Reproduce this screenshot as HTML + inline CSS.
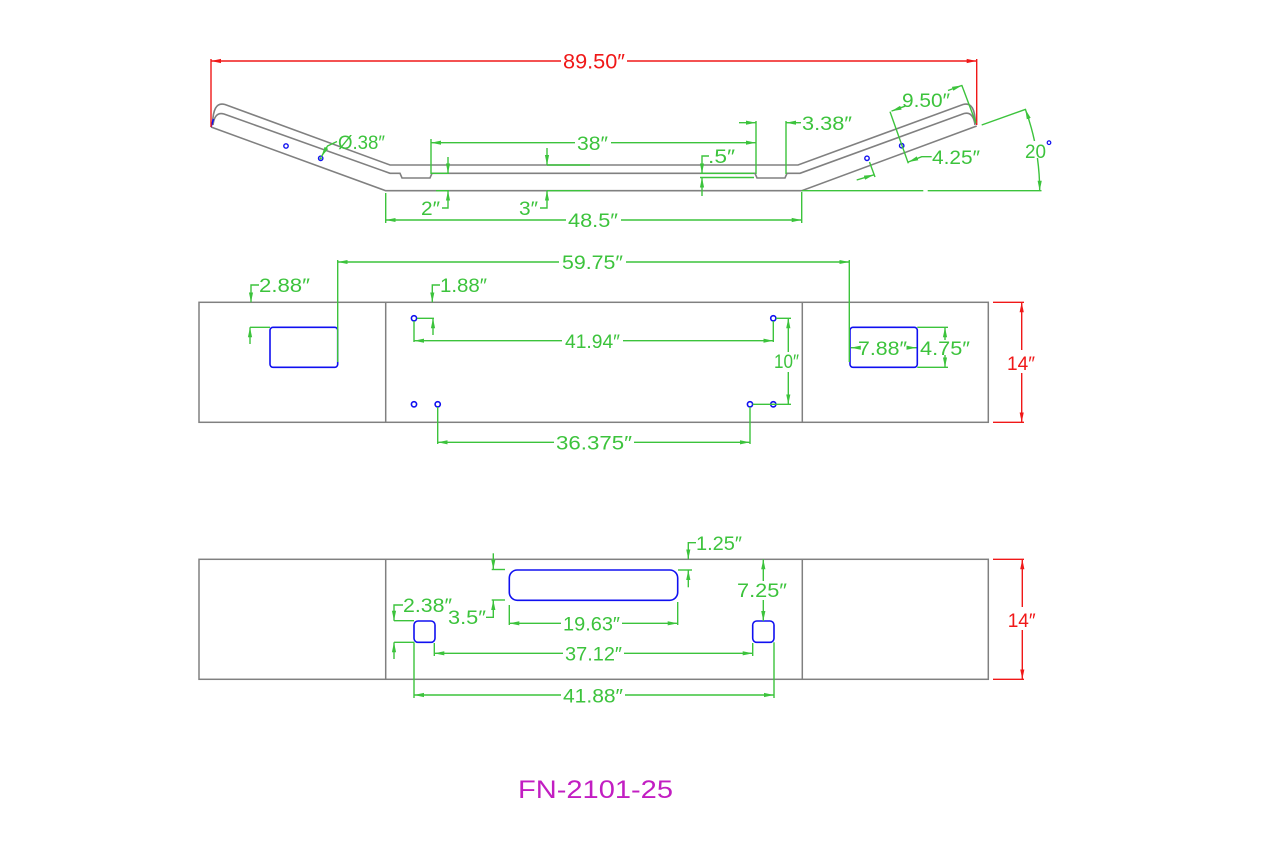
<!DOCTYPE html>
<html><head><meta charset="utf-8"><style>
html,body{margin:0;padding:0;background:#fff;}
svg{display:block;}
text{font-family:"Liberation Sans",sans-serif;}
</style></head><body>
<svg width="1280" height="853" viewBox="0 0 1280 853" xmlns="http://www.w3.org/2000/svg">
<defs>
<marker id="g" viewBox="0 0 10 6" refX="10" refY="3" markerWidth="10" markerHeight="6" markerUnits="userSpaceOnUse" orient="auto"><path d="M0,0.9L10,3L0,5.1z" fill="#3cc33c"/></marker>
<marker id="r" viewBox="0 0 10 6" refX="10" refY="3" markerWidth="10" markerHeight="6" markerUnits="userSpaceOnUse" orient="auto"><path d="M0,0.9L10,3L0,5.1z" fill="#f01818"/></marker>
</defs>
<rect width="1280" height="853" fill="#fff"/>

<!-- ========== TOP PROFILE ========== -->
<g fill="none" stroke="#808080" stroke-width="1.6">
<path d="M211,127 L385.7,190.7 L801.7,190.7 L976.7,126"/>
<path d="M212.5,124 C213,110 216,102 225,104.5 L390,165 L798,165 L963,104.5 C972,102 975,110 975.5,124"/>
<path d="M213,125 C214,117 217,112 224,114 L390,173.3 L400,173.3 L402,178 L430,178 L432,173.3 L755,173.3 L757,178 L785,178 L787,173.3 L800,173.3 L964,113.5 C971,112 974,117 975,125"/>
</g>
<line x1="211" y1="127" x2="213.5" y2="119" stroke="#1010f0" stroke-width="1.6"/>

<!-- red overall -->
<g stroke="#f01818" stroke-width="1.4" fill="none">
<line x1="211" y1="59" x2="211" y2="127"/>
<line x1="976.7" y1="59" x2="976.7" y2="125"/>
<line x1="561" y1="61" x2="211" y2="61" marker-end="url(#r)"/>
<line x1="627" y1="61" x2="976.7" y2="61" marker-end="url(#r)"/>
</g>
<text x="563" y="68.5" font-size="21" fill="#f01818" textLength="62" lengthAdjust="spacingAndGlyphs">89.50″</text>

<!-- holes top -->
<g fill="none" stroke="#1010f0" stroke-width="1.4">
<circle cx="286" cy="146" r="2.2"/>
<circle cx="320.7" cy="158.3" r="2.2"/>
<circle cx="867" cy="158.3" r="2.2"/>
<circle cx="901.7" cy="145.7" r="2.2"/>
</g>

<g stroke="#3cc33c" stroke-width="1.4" fill="none">
<!-- 38 -->
<line x1="431" y1="139" x2="431" y2="174"/>
<line x1="756" y1="121" x2="756" y2="174"/>
<line x1="575" y1="142.7" x2="431" y2="142.7" marker-end="url(#g)"/>
<line x1="611" y1="142.7" x2="756" y2="142.7" marker-end="url(#g)"/>
<!-- 3.38 -->
<line x1="786" y1="121" x2="786" y2="174"/>
<line x1="739" y1="122.7" x2="756" y2="122.7" marker-end="url(#g)"/>
<line x1="801" y1="122.7" x2="786" y2="122.7" marker-end="url(#g)"/>
<!-- .5 -->
<line x1="700" y1="173.3" x2="754" y2="173.3"/>
<line x1="700" y1="177.5" x2="754" y2="177.5"/>
<polyline points="709,156 702,156 702,173.3" marker-end="url(#g)"/>
<line x1="702" y1="196" x2="702" y2="177.5" marker-end="url(#g)"/>
<!-- 2 -->
<line x1="431" y1="173.3" x2="449" y2="173.3"/>
<line x1="436" y1="190.7" x2="449" y2="190.7"/>
<line x1="448" y1="157" x2="448" y2="173.3" marker-end="url(#g)"/>
<polyline points="442,208 448,208 448,190.7" marker-end="url(#g)"/>
<!-- 3 -->
<line x1="547" y1="165" x2="590" y2="165"/>
<line x1="547" y1="190.7" x2="590" y2="190.7"/>
<line x1="547" y1="148" x2="547" y2="165" marker-end="url(#g)"/>
<polyline points="540,208 547,208 547,190.7" marker-end="url(#g)"/>
<!-- 48.5 -->
<line x1="385.7" y1="193" x2="385.7" y2="223"/>
<line x1="801.7" y1="192" x2="801.7" y2="223"/>
<line x1="566" y1="220" x2="385.7" y2="220" marker-end="url(#g)"/>
<line x1="621" y1="220" x2="801.7" y2="220" marker-end="url(#g)"/>
<!-- dia .38 leader -->
<polyline points="337,141.5 327.5,146 321.5,156.5" marker-end="url(#g)"/>
<!-- 9.50 -->
<line x1="890" y1="111.7" x2="908.3" y2="163.3"/>
<line x1="961.7" y1="85" x2="976" y2="123"/>
<line x1="905" y1="106.2" x2="891.5" y2="111.1" marker-end="url(#g)"/>
<line x1="948" y1="90.5" x2="962" y2="85.4" marker-end="url(#g)"/>
<!-- 4.25 -->
<polyline points="931.7,156.7 921.7,156.7 908.3,162" marker-end="url(#g)"/>
<line x1="869.5" y1="162" x2="875" y2="177"/>
<line x1="856.7" y1="180" x2="874" y2="174.8" marker-end="url(#g)"/>
<!-- 20 deg -->
<line x1="981.7" y1="125" x2="1026" y2="109.2"/>
<path d="M1034.5,141 A238,238 0 0 0 1025.35,109.3" marker-end="url(#g)"/>
<path d="M1037.4,158 A238,238 0 0 1 1039.7,190.7" marker-end="url(#g)"/>
<line x1="801.7" y1="190.7" x2="923.3" y2="190.7"/>
<line x1="927.7" y1="190.7" x2="1041.5" y2="190.7"/>
</g>
<circle cx="320.7" cy="158.3" r="1.2" fill="#3cc33c"/>
<circle cx="1049" cy="142.7" r="1.8" fill="none" stroke="#1010f0" stroke-width="1.2"/>

<g font-size="19" fill="#3cc33c">
<text x="577" y="150" textLength="31" lengthAdjust="spacingAndGlyphs">38″</text>
<text x="802" y="130" textLength="50" lengthAdjust="spacingAndGlyphs">3.38″</text>
<text x="708" y="163" textLength="27" lengthAdjust="spacingAndGlyphs">.5″</text>
<text x="421" y="215" textLength="19" lengthAdjust="spacingAndGlyphs">2″</text>
<text x="519" y="215" textLength="19" lengthAdjust="spacingAndGlyphs">3″</text>
<text x="568" y="227" textLength="50" lengthAdjust="spacingAndGlyphs">48.5″</text>
<text x="338" y="149" textLength="47" lengthAdjust="spacingAndGlyphs">Ø.38″</text>
<text x="902" y="107" textLength="48" lengthAdjust="spacingAndGlyphs">9.50″</text>
<text x="932" y="164" textLength="48" lengthAdjust="spacingAndGlyphs">4.25″</text>
<text x="1025" y="158" textLength="21" lengthAdjust="spacingAndGlyphs">20</text>
</g>

<!-- ========== MIDDLE VIEW ========== -->
<g fill="none" stroke="#808080" stroke-width="1.5">
<rect x="199" y="302.3" width="789.3" height="120"/>
<line x1="385.7" y1="302.3" x2="385.7" y2="422.3"/>
<line x1="802.3" y1="302.3" x2="802.3" y2="422.3"/>
</g>
<g fill="none" stroke="#1010f0" stroke-width="1.6">
<rect x="270" y="327.3" width="67.7" height="40" rx="3"/>
<rect x="850" y="327.3" width="67.3" height="40" rx="3"/>
<circle cx="414" cy="318.3" r="2.6"/>
<circle cx="414" cy="404.3" r="2.6"/>
<circle cx="437.7" cy="404.3" r="2.6"/>
<circle cx="773.3" cy="318.3" r="2.6"/>
<circle cx="750" cy="404.3" r="2.6"/>
<circle cx="773.3" cy="404.3" r="2.6"/>
</g>
<g stroke="#3cc33c" stroke-width="1.4" fill="none">
<!-- 59.75 -->
<line x1="337.7" y1="260" x2="337.7" y2="362"/>
<line x1="849.3" y1="260" x2="849.3" y2="362"/>
<line x1="559" y1="262" x2="337.7" y2="262" marker-end="url(#g)"/>
<line x1="626" y1="262" x2="849.3" y2="262" marker-end="url(#g)"/>
<!-- 2.88 -->
<polyline points="259,285 251,285 251,302.3" marker-end="url(#g)"/>
<line x1="250" y1="327.3" x2="270" y2="327.3"/>
<line x1="250" y1="344" x2="250" y2="327.3" marker-end="url(#g)"/>
<!-- 1.88 -->
<polyline points="440,285 432.3,285 432.3,302.3" marker-end="url(#g)"/>
<line x1="417" y1="318.3" x2="434" y2="318.3"/>
<line x1="433" y1="335" x2="433" y2="318.3" marker-end="url(#g)"/>
<!-- 41.94 -->
<line x1="414" y1="321" x2="414" y2="342"/>
<line x1="773.3" y1="321" x2="773.3" y2="342"/>
<line x1="562" y1="340.7" x2="414" y2="340.7" marker-end="url(#g)"/>
<line x1="623" y1="340.7" x2="773.3" y2="340.7" marker-end="url(#g)"/>
<!-- 10 -->
<line x1="776" y1="318.3" x2="791" y2="318.3"/>
<line x1="752.6" y1="404.3" x2="791" y2="404.3"/>
<line x1="788.3" y1="352" x2="788.3" y2="318.3" marker-end="url(#g)"/>
<line x1="788.3" y1="372" x2="788.3" y2="404.3" marker-end="url(#g)"/>
<!-- 36.375 -->
<line x1="437.7" y1="407" x2="437.7" y2="444"/>
<line x1="750" y1="407" x2="750" y2="444"/>
<line x1="554" y1="442.3" x2="437.7" y2="442.3" marker-end="url(#g)"/>
<line x1="634" y1="442.3" x2="750" y2="442.3" marker-end="url(#g)"/>
<!-- 7.88 -->
<line x1="858" y1="347.7" x2="850.8" y2="347.7" marker-end="url(#g)"/>
<line x1="908" y1="347.7" x2="916.5" y2="347.7" marker-end="url(#g)"/>
<!-- 4.75 -->
<line x1="917.3" y1="327.3" x2="948" y2="327.3"/>
<line x1="917.3" y1="367.3" x2="948" y2="367.3"/>
<line x1="945" y1="340" x2="945" y2="327.3" marker-end="url(#g)"/>
<line x1="945" y1="355" x2="945" y2="367.3" marker-end="url(#g)"/>
</g>
<g stroke="#f01818" stroke-width="1.4" fill="none">
<line x1="993" y1="302.3" x2="1024" y2="302.3"/>
<line x1="993" y1="422.3" x2="1024" y2="422.3"/>
<line x1="1021.7" y1="350" x2="1021.7" y2="302.3" marker-end="url(#r)"/>
<line x1="1021.7" y1="373" x2="1021.7" y2="422.3" marker-end="url(#r)"/>
</g>
<text x="1007" y="370" font-size="19" fill="#f01818" textLength="28" lengthAdjust="spacingAndGlyphs">14″</text>
<g font-size="19" fill="#3cc33c">
<text x="562" y="269" textLength="61" lengthAdjust="spacingAndGlyphs">59.75″</text>
<text x="259" y="292" textLength="51" lengthAdjust="spacingAndGlyphs">2.88″</text>
<text x="440" y="292" textLength="47" lengthAdjust="spacingAndGlyphs">1.88″</text>
<text x="565" y="348" textLength="55" lengthAdjust="spacingAndGlyphs">41.94″</text>
<text x="774" y="368" textLength="25" lengthAdjust="spacingAndGlyphs">10″</text>
<text x="556" y="449.5" textLength="76" lengthAdjust="spacingAndGlyphs">36.375″</text>
<text x="858" y="355" textLength="49" lengthAdjust="spacingAndGlyphs">7.88″</text>
<text x="920" y="355" textLength="50" lengthAdjust="spacingAndGlyphs">4.75″</text>
</g>

<!-- ========== BOTTOM VIEW ========== -->
<g fill="none" stroke="#808080" stroke-width="1.5">
<rect x="199" y="559.3" width="789.3" height="120"/>
<line x1="385.7" y1="559.3" x2="385.7" y2="679.3"/>
<line x1="802.3" y1="559.3" x2="802.3" y2="679.3"/>
</g>
<g fill="none" stroke="#1010f0" stroke-width="1.6">
<rect x="509.3" y="570" width="168.4" height="30.3" rx="8"/>
<rect x="414" y="621" width="21" height="21.3" rx="4"/>
<rect x="752.7" y="621" width="21.3" height="21.3" rx="4"/>
</g>
<g stroke="#3cc33c" stroke-width="1.4" fill="none">
<!-- 1.25 -->
<polyline points="696,542.7 688.3,542.7 688.3,559.3" marker-end="url(#g)"/>
<line x1="678" y1="570" x2="692" y2="570"/>
<line x1="688.3" y1="587.3" x2="688.3" y2="570" marker-end="url(#g)"/>
<!-- 3.5 -->
<line x1="493.3" y1="553.3" x2="493.3" y2="569.5" marker-end="url(#g)"/>
<line x1="491.7" y1="569.5" x2="505" y2="569.5"/>
<line x1="491.7" y1="600" x2="505" y2="600"/>
<polyline points="486,617.3 493.3,617.3 493.3,600" marker-end="url(#g)"/>
<!-- 19.63 -->
<line x1="509.3" y1="605" x2="509.3" y2="625"/>
<line x1="677.7" y1="602" x2="677.7" y2="625"/>
<line x1="561" y1="623.3" x2="509.3" y2="623.3" marker-end="url(#g)"/>
<line x1="622" y1="623.3" x2="677.7" y2="623.3" marker-end="url(#g)"/>
<!-- 7.25 -->
<line x1="763.3" y1="581" x2="763.3" y2="559.3" marker-end="url(#g)"/>
<line x1="763.3" y1="600" x2="763.3" y2="621" marker-end="url(#g)"/>
<!-- 2.38 -->
<polyline points="403,605 394,605 394,620.7" marker-end="url(#g)"/>
<line x1="394" y1="620.7" x2="414" y2="620.7"/>
<line x1="394" y1="642.3" x2="414" y2="642.3"/>
<line x1="394" y1="659" x2="394" y2="642.3" marker-end="url(#g)"/>
<!-- 37.12 -->
<line x1="434.3" y1="643" x2="434.3" y2="656"/>
<line x1="752.7" y1="643" x2="752.7" y2="656"/>
<line x1="563" y1="653.3" x2="434.3" y2="653.3" marker-end="url(#g)"/>
<line x1="624" y1="653.3" x2="752.7" y2="653.3" marker-end="url(#g)"/>
<!-- 41.88 -->
<line x1="414" y1="642.3" x2="414" y2="698"/>
<line x1="774" y1="642.3" x2="774" y2="698"/>
<line x1="561" y1="695" x2="414" y2="695" marker-end="url(#g)"/>
<line x1="625" y1="695" x2="774" y2="695" marker-end="url(#g)"/>
</g>
<g stroke="#f01818" stroke-width="1.4" fill="none">
<line x1="993" y1="559.3" x2="1024" y2="559.3"/>
<line x1="993" y1="679.3" x2="1024" y2="679.3"/>
<line x1="1022.3" y1="607" x2="1022.3" y2="559.3" marker-end="url(#r)"/>
<line x1="1022.3" y1="630" x2="1022.3" y2="679.3" marker-end="url(#r)"/>
</g>
<text x="1007.7" y="627" font-size="19" fill="#f01818" textLength="28" lengthAdjust="spacingAndGlyphs">14″</text>
<g font-size="19" fill="#3cc33c">
<text x="696" y="550" textLength="46" lengthAdjust="spacingAndGlyphs">1.25″</text>
<text x="448" y="624" textLength="38" lengthAdjust="spacingAndGlyphs">3.5″</text>
<text x="563" y="630.7" textLength="57" lengthAdjust="spacingAndGlyphs">19.63″</text>
<text x="737" y="597" textLength="50" lengthAdjust="spacingAndGlyphs">7.25″</text>
<text x="403" y="612" textLength="49" lengthAdjust="spacingAndGlyphs">2.38″</text>
<text x="565" y="660.6" textLength="57" lengthAdjust="spacingAndGlyphs">37.12″</text>
<text x="563" y="702.5" textLength="60" lengthAdjust="spacingAndGlyphs">41.88″</text>
</g>

<!-- title -->
<text x="518" y="798" font-size="25" fill="#c21ec2" textLength="155" lengthAdjust="spacingAndGlyphs">FN-2101-25</text>
</svg>
</body></html>
